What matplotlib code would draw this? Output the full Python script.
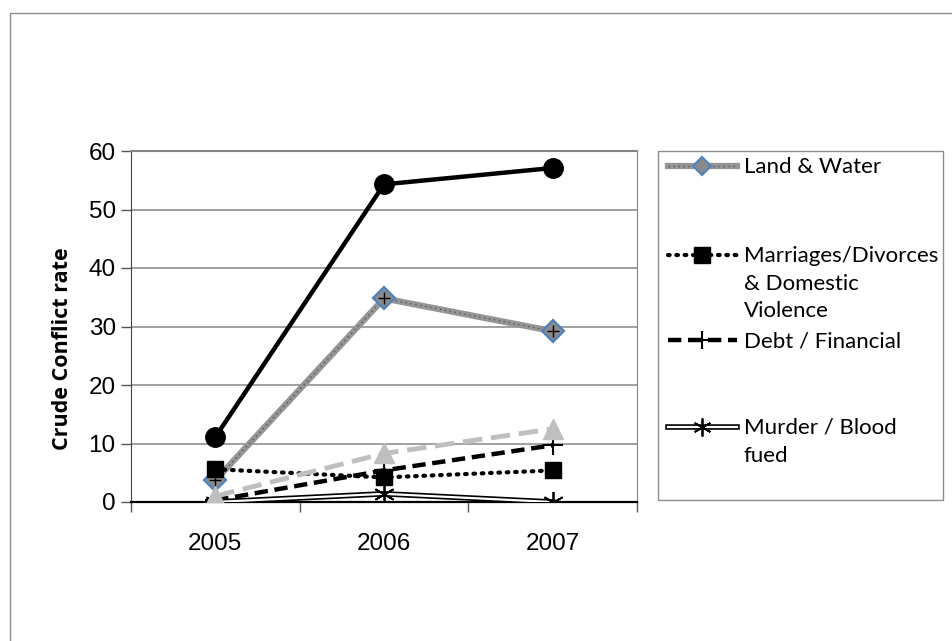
import matplotlib.pyplot as plt
from matplotlib.lines import Line2D
from matplotlib.patches import Rectangle

years = ["2005", "2006", "2007"]
land_water = [3.7, 34.8, 29.2]
marriages = [5.6, 4.2, 5.4]
debt = [0.3, 5.4, 9.7]
murder = [0.0, 1.4, 0.0]
other_black = [11.1, 54.3, 57.1]
other_grey = [1.0, 8.3, 12.5]

legend_labels = ["Land & Water", "Marriages/Divorces\n& Domestic\nViolence",
                 "Debt / Financial", "Murder / Blood\nfued"]

W, H = 953, 641
fig = plt.figure(figsize=(W / 100, H / 100), dpi=100)

# outer chart frame
fig.patches.append(Rectangle((10 / W, -0.1), 1.2, 1 - 13 / H + 0.1,
                             transform=fig.transFigure, fill=False,
                             edgecolor="#8c8c8c", lw=1.0))

ax = fig.add_axes([131 / W, 1 - 502 / H, (637 - 131) / W, (502 - 151) / H])
x = list(range(len(years)))

ax.plot(x, land_water, color="#959595", lw=4.5, zorder=3, solid_capstyle="butt")
ax.plot(x, land_water, color="#4a4a4a", lw=0.9, ls=(0, (1, 3)), zorder=3)
ax.plot(x, land_water, ls="none", marker="D", ms=11, mfc="#8a8a8a",
        mec="#4f81bd", mew=1.6, zorder=3)
ax.plot(x, land_water, ls="none", marker="+", ms=9, mec="black", mew=1, zorder=3)

ax.plot(x, marriages, color="black", lw=3, ls=(0, (0.4, 1.6)),
        dash_capstyle="round", marker="s", ms=12, zorder=4)
ax.plot(x, debt, color="black", lw=3.2, ls=(0, (3, 1.5)), marker="+",
        ms=15, mew=1.5, zorder=5)
ax.plot(x, murder, color="black", lw=4, zorder=6)
ax.plot(x, murder, color="white", lw=1.6, zorder=6)
ax.plot(x, murder, ls="none", marker=(6, 2, 0), ms=15, mec="black",
        mew=1.3, zorder=6)
ax.plot(x, other_black, color="black", lw=3.2, marker="o", ms=14, zorder=7)
ax.plot(x, other_grey, color="#bfbfbf", lw=3.5, ls=(0, (4, 1.8)),
        marker="^", ms=14, zorder=8)

ax.set_xlim(-0.5, 2.5)
ax.set_ylim(0, 60)
ax.set_yticks(range(0, 61, 10))
ax.set_xticks(x)
ax.set_xticklabels(years)
ax.set_xticks([-0.5, 0.5, 1.5, 2.5], minor=True)
ax.tick_params(axis="x", which="major", length=0, pad=22)
ax.tick_params(axis="x", which="minor", length=7, width=1, color="#555555")
ax.tick_params(axis="y", length=7, width=1, color="#555555", pad=4)
for lab in ax.get_xticklabels() + ax.get_yticklabels():
    lab.set_fontfamily("Liberation Sans")
    lab.set_fontsize(17.5)
ax.yaxis.grid(True, color="#868686", lw=1.1)
ax.set_axisbelow(True)
ax.spines["top"].set_color("#868686")
ax.spines["top"].set_linewidth(1.5)
ax.spines["right"].set_color("#868686")
ax.spines["left"].set_color("#444444")
ax.spines["bottom"].set_color("black")
ax.spines["bottom"].set_linewidth(1.6)
ax.set_ylabel("Crude Conflict rate", fontfamily="Open Sans", fontweight="bold",
              fontsize=15.5)
ax.yaxis.set_label_coords(-0.115, 0.436)

# legend box drawn in pixel coordinates
lax = fig.add_axes([0, 0, 1, 1])
lax.set_xlim(0, W)
lax.set_ylim(H, 0)
lax.axis("off")
lax.add_patch(Rectangle((658, 151), 285, 349, fill=False,
                        edgecolor="#8c8c8c", lw=1.0))

hx = [668, 737]
ys = [166, 255, 340, 427]
mid = 702
lax.add_line(Line2D(hx, [ys[0]] * 2, color="#959595", lw=4.5))
lax.add_line(Line2D(hx, [ys[0]] * 2, color="#4a4a4a", lw=0.9, ls=(0, (1, 3))))
lax.add_line(Line2D([mid], [ys[0]], ls="none", marker="D", ms=9,
                    mfc="#8a8a8a", mec="#4f81bd", mew=1.5))
lax.add_line(Line2D(hx, [ys[1]] * 2, color="black", lw=3, ls=(0, (0.4, 1.6)),
                    dash_capstyle="round"))
lax.add_line(Line2D([mid], [ys[1]], ls="none", marker="s", ms=11, color="black"))
lax.add_line(Line2D(hx, [ys[2]] * 2, color="black", lw=3.2, ls=(0, (3, 1.5))))
lax.add_line(Line2D([mid], [ys[2]], ls="none", marker="+", ms=13, mew=1.5,
                    color="black"))
lax.add_line(Line2D(hx, [ys[3]] * 2, color="black", lw=4))
lax.add_line(Line2D(hx, [ys[3]] * 2, color="white", lw=1.6))
lax.add_line(Line2D([mid], [ys[3]], ls="none", marker=(6, 2, 0), ms=13,
                    mec="black", mew=1.3))

for y, lab in zip(ys, legend_labels):
    lax.text(744, y - 9, lab, ha="left", va="top", fontfamily="Lato",
             fontsize=16, linespacing=1.47)

fig.savefig("out.png", dpi=100)
